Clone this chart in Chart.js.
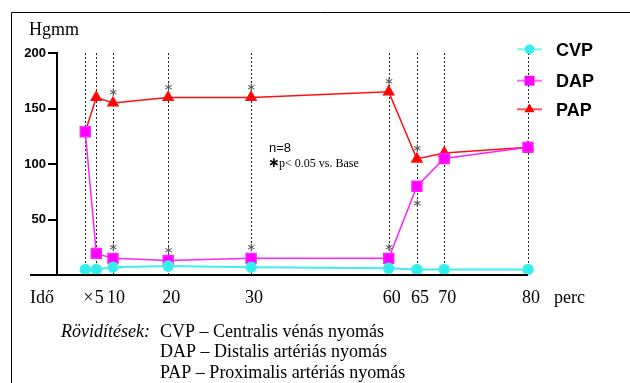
<!DOCTYPE html>
<html>
<head>
<meta charset="utf-8">
<script src="https://cdn.jsdelivr.net/npm/chart.js@4.4.1/dist/chart.umd.min.js"></script>
<style>
  html, body { margin: 0; padding: 0; background: #fff; }
</style>
</head>
<body>
<canvas id="chart" width="630" height="383"></canvas>
<script>
// time points: first one is the baseline, the rest are minutes
var timeLabels = ['\u00d7', '5', '10', '20', '30', '60', '65', '70', '80'];
// place of each time point along the broken x axis
var axisPos = [0, 1.33, 3.34, 10, 20, 36.6, 40, 43.3, 53.4];

var cvpValues = [5, 5, 7, 8, 7, 6, 5, 5, 5];
var dapValues = [129, 19.5, 15, 13, 15, 15, 80, 105, 115];
var papValues = [129, 160, 155, 160, 160, 165, 104.5, 110, 115];

// 1 = star above the point, -1 = star below, 0 = none
var dapSig = [0, 0, 1, 1, 1, 1, -1, 0, 0];
var papSig = [0, 0, 1, 1, 1, 1, 1, 0, 0];

var yTicks = [0, 50, 100, 150, 200];

var legendNames = ['CVP', 'DAP', 'PAP'];
var captionLines = [
  'CVP \u2013 Centralis v\u00e9n\u00e1s nyom\u00e1s',
  'DAP \u2013 Distalis art\u00e9ri\u00e1s nyom\u00e1s',
  'PAP \u2013 Proximalis art\u00e9ri\u00e1s nyom\u00e1s'
];

var serif = "'Liberation Serif', 'Times New Roman', serif";
var sans = "'Liberation Sans', Arial, sans-serif";

function pts(vals) {
  return vals.map(function (v, i) { return { x: axisPos[i], y: v }; });
}

var decor = {
  id: 'decor',
  beforeDatasetsDraw: function (chart) {
    var ctx = chart.ctx, xs = chart.scales.x, ys = chart.scales.y;
    var top = ys.getPixelForValue(200), bot = ys.getPixelForValue(0);
    ctx.save();
    ctx.strokeStyle = '#222';
    ctx.lineWidth = 1;
    ctx.setLineDash([2, 2]);
    axisPos.forEach(function (p) {
      var x = Math.round(xs.getPixelForValue(p)) + 0.5;
      ctx.beginPath();
      ctx.moveTo(x, top);
      ctx.lineTo(x, bot);
      ctx.stroke();
    });
    ctx.restore();
  },
  afterDraw: function (chart) {
    var ctx = chart.ctx, xs = chart.scales.x, ys = chart.scales.y;
    var y0 = ys.getPixelForValue(0);
    ctx.save();

    // frame
    ctx.strokeStyle = '#000';
    ctx.lineWidth = 1;
    ctx.beginPath();
    ctx.moveTo(11.5, 383);
    ctx.lineTo(11.5, 12.5);
    ctx.lineTo(630, 12.5);
    ctx.stroke();

    // x axis line runs past the y axis
    ctx.lineWidth = 2;
    ctx.beginPath();
    ctx.moveTo(30, y0);
    ctx.lineTo(xs.right, y0);
    ctx.stroke();

    ctx.fillStyle = '#000';
    ctx.textAlign = 'left';
    ctx.textBaseline = 'alphabetic';
    ctx.font = '18px ' + serif;
    ctx.fillText('Hgmm', 29, 35);
    ctx.fillText('Id\u0151', 30, 303);
    ctx.fillText('perc', 554, 303);

    // note
    ctx.font = '13px ' + sans;
    ctx.fillText('n=8', 269, 152);
    ctx.font = 'bold 14px DejaVu Sans';
    ctx.fillText('\u2217', 268, 167);
    ctx.font = '12px ' + serif;
    ctx.fillText('p< 0.05 vs. Base', 279, 167);

    // caption
    ctx.font = 'italic 18px ' + serif;
    ctx.fillText('R\u00f6vid\u00edt\u00e9sek:', 61, 337);
    ctx.font = '18px ' + serif;
    captionLines.forEach(function (t, i) {
      ctx.fillText(t, 160, 337 + i * 20.3);
    });

    // significance stars
    ctx.fillStyle = '#555';
    ctx.font = '12px DejaVu Sans';
    ctx.textAlign = 'center';
    ctx.textBaseline = 'middle';
    [[1, dapSig], [2, papSig]].forEach(function (pair) {
      var meta = chart.getDatasetMeta(pair[0]);
      pair[1].forEach(function (s, j) {
        if (!s) return;
        var el = meta.data[j];
        ctx.fillText('\u2217', el.x, s > 0 ? el.y - 10 : el.y + 18);
      });
    });

    // legend
    var legY = [49.3, 80.7, 109.3];
    chart.data.datasets.forEach(function (ds, i) {
      var y = legY[i];
      ctx.globalAlpha = 0.7;
      ctx.strokeStyle = ds.borderColor;
      ctx.lineWidth = 2;
      ctx.beginPath();
      ctx.moveTo(517, y);
      ctx.lineTo(542, y);
      ctx.stroke();
      ctx.globalAlpha = 1;
      ctx.fillStyle = ds.backgroundColor;
      Chart.helpers.drawPoint(ctx, {
        pointStyle: ds.pointStyle,
        radius: ds.legendRadius,
        rotation: 0,
        borderWidth: 0
      }, 529.5, y);
      ctx.fillStyle = '#000';
      ctx.font = 'bold 18px ' + sans;
      ctx.textAlign = 'left';
      ctx.textBaseline = 'alphabetic';
      ctx.fillText(legendNames[i], 556, y + 6.4);
    });

    ctx.restore();
  }
};

var ctx = document.getElementById('chart').getContext('2d');
new Chart(ctx, {
  type: 'line',
  data: {
    datasets: [
      {
        label: 'CVP', data: pts(cvpValues),
        borderColor: '#40eeee', backgroundColor: '#30eeee',
        borderWidth: 2, pointStyle: 'circle', pointRadius: 4.8, legendRadius: 4.8
      },
      {
        label: 'DAP', data: pts(dapValues),
        borderColor: '#ff22ff', backgroundColor: '#ff00ff',
        borderWidth: 1.5, pointStyle: 'rect', pointRadius: 7, legendRadius: 7
      },
      {
        label: 'PAP', data: pts(papValues),
        borderColor: '#ff1010', backgroundColor: '#ff0000',
        borderWidth: 1.5, pointStyle: 'triangle', legendRadius: 5.8,
        pointRadius: papValues.map(function (v, i) { return i === 0 ? 0 : 5.8; })
      }
    ]
  },
  options: {
    responsive: false,
    animation: false,
    devicePixelRatio: 1,
    layout: { padding: { left: 11, right: 102, top: 53, bottom: 0 } },
    elements: {
      line: { tension: 0 },
      point: { borderWidth: 0, hoverRadius: 0 }
    },
    datasets: { line: { clip: false } },
    plugins: {
      legend: { display: false },
      tooltip: { enabled: false }
    },
    scales: {
      x: {
        type: 'linear',
        min: -3.41,
        max: 53.4,
        grid: { display: false, drawTicks: false },
        border: { display: false },
        afterBuildTicks: function (s) {
          s.ticks = axisPos.map(function (v) { return { value: v }; });
        },
        afterFit: function (s) { s.height = 108; },
        ticks: {
          autoSkip: false,
          maxRotation: 0,
          padding: 12,
          labelOffset: 3,
          color: '#000',
          font: { family: serif, size: 18 },
          callback: function (v, i) { return timeLabels[i]; }
        }
      },
      y: {
        min: 0,
        max: 200,
        afterBuildTicks: function (s) {
          s.ticks = yTicks.map(function (v) { return { value: v }; });
        },
        afterFit: function (s) { s.width = 46; },
        grid: { drawOnChartArea: false, tickLength: 9, lineWidth: 2, color: '#000' },
        border: { color: '#000', width: 2 },
        ticks: {
          padding: 2,
          color: '#000',
          font: { family: sans, size: 13, weight: 'bold' },
          callback: function (v) { return v === 0 ? '' : v; }
        }
      }
    }
  },
  plugins: [decor]
});
</script>
</body>
</html>
